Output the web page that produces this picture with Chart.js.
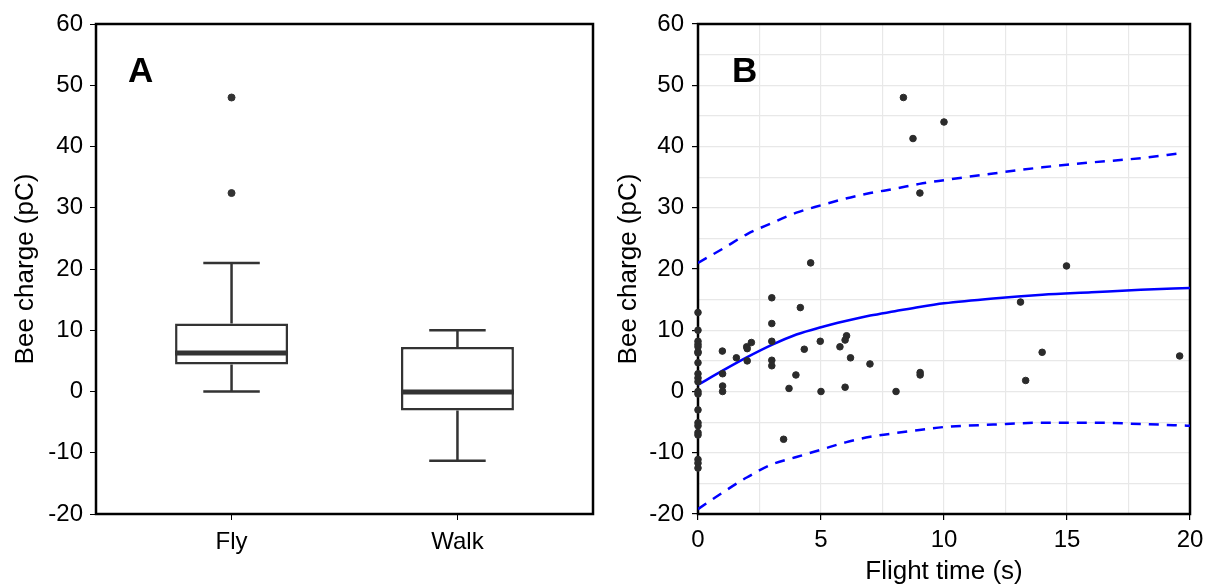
<!DOCTYPE html>
<html>
<head>
<meta charset="utf-8">
<title>Bee charge</title>
<script src="https://cdn.jsdelivr.net/npm/chart.js@4.4.1/dist/chart.umd.min.js"></script>
<style>
  html, body { margin: 0; padding: 0; background: #fff; overflow: hidden; }
  #wrap { position: relative; width: 1205px; height: 585px; overflow: hidden; }
  #chartA { position: absolute; left: 0; top: 0; }
  #chartB { position: absolute; left: 600px; top: 0; }
</style>
</head>
<body>
<div id="wrap">
  <canvas id="chartA" width="600" height="585"></canvas>
  <canvas id="chartB" width="625" height="585"></canvas>
</div>
<script>
// Panel A : boxplot stats per group
const groups = ['Fly', 'Walk'];
const whiskerLow = [0.0, -11.3];
const q1 = [4.4, -3.1];
const median = [6.3, -0.1];
const q3 = [11.1, 7.25];
const whiskerHigh = [21.0, 10.0];
const outlierGroup = [1, 1];
const outlierValue = [48.0, 32.4];

// Panel B : flight time vs charge
const flightTime = [
  0, 0, 0, 0, 0, 0, 0, 0, 0, 0, 0, 0, 0, 0, 0, 0, 0, 0, 0, 0, 0,
  8.35, 10.0, 8.74, 9.02, 4.58, 14.98, 3.0, 13.11, 4.16, 3.0,
  6.04, 5.98, 4.97, 3.0, 2.17, 1.98, 2.0, 5.77, 4.32, 0.99,
  13.99, 1.56, 6.2, 19.58, 3.0, 2.0, 6.99, 3.0, 1.0, 9.03,
  9.03, 3.98, 13.32, 1.0, 5.98, 3.7, 1.0, 5.0, 8.05, 3.48
];
const beeCharge = [
  12.9, 10.0, 8.2, 7.7, 7.3, 6.5, 6.3, 4.7, 2.9, 2.2, 1.6, 0.0, -0.4, -3.0, -5.1, -5.6, -6.7, -7.1, -11.1, -11.7, -12.5,
  48.0, 44.0, 41.3, 32.4, 21.0, 20.5, 15.3, 14.6, 13.7, 11.1,
  9.1, 8.4, 8.2, 8.2, 8.0, 7.3, 7.0, 7.3, 6.9, 6.6,
  6.4, 5.5, 5.5, 5.8, 5.1, 5.0, 4.5, 4.2, 2.9, 3.1,
  2.7, 2.7, 1.8, 0.9, 0.7, 0.5, 0.0, 0.0, 0.0, -7.8
];
const fitTime = [0, 1, 2, 3, 4, 5, 6, 7, 8, 9, 10, 12, 14, 16, 18, 20];
const fitMean = [1.1, 3.4, 5.6, 7.6, 9.3, 10.5, 11.5, 12.4, 13.1, 13.8, 14.4, 15.2, 15.8, 16.2, 16.6, 16.9];
const bandTime = [0, 1, 2, 3, 4, 5, 6, 7, 8, 9, 10, 12, 14, 16, 18, 19.6];
const upperBand = [21.0, 23.3, 25.7, 27.5, 29.2, 30.4, 31.5, 32.4, 33.1, 33.9, 34.5, 35.6, 36.6, 37.4, 38.1, 38.9];
const lowerTime = [0, 1, 2, 3, 4, 5, 6, 7, 8, 9, 10, 12, 14, 16, 18, 20];
const lowerBand = [-19.2, -16.5, -14.0, -11.9, -10.7, -9.5, -8.3, -7.4, -6.8, -6.3, -5.8, -5.4, -5.1, -5.1, -5.3, -5.6];

const yTicks = [-20, -10, 0, 10, 20, 30, 40, 50, 60];

const FONT = "'Liberation Sans', Arial, sans-serif";
const INK = '#333333';
const boxHalf = 0.25;
const capHalf = 0.125;

// frame round the plot + panel letter
function framePlugin(letter, dx) {
  return {
    id: 'frame' + letter,
    beforeDatasetsDraw(chart) {
      const { ctx, chartArea: a } = chart;
      ctx.save();
      ctx.strokeStyle = '#000';
      ctx.lineWidth = 2.5;
      ctx.strokeRect(a.left, a.top, a.right - a.left, a.bottom - a.top);
      ctx.restore();
    },
    afterDraw(chart) {
      const { ctx, chartArea: a } = chart;
      ctx.save();
      ctx.fillStyle = '#000';
      ctx.font = 'bold 35px ' + FONT;
      ctx.textBaseline = 'middle';
      ctx.fillText(letter, a.left + dx, a.top + 48);
      ctx.restore();
    }
  };
}

const groupX = groups.map((g, i) => i + 1);

// whiskers, caps and medians as line segments broken by null
const whiskerSegs = [];
const medianSegs = [];
groupX.forEach((x, i) => {
  whiskerSegs.push({ x, y: q3[i] }, { x, y: whiskerHigh[i] }, { x, y: null });
  whiskerSegs.push({ x: x - capHalf, y: whiskerHigh[i] }, { x: x + capHalf, y: whiskerHigh[i] }, { x, y: null });
  whiskerSegs.push({ x, y: q1[i] }, { x, y: whiskerLow[i] }, { x, y: null });
  whiskerSegs.push({ x: x - capHalf, y: whiskerLow[i] }, { x: x + capHalf, y: whiskerLow[i] }, { x, y: null });
  medianSegs.push({ x: x - boxHalf, y: median[i] }, { x: x + boxHalf, y: median[i] }, { x, y: null });
});

new Chart(document.getElementById('chartA'), {
  type: 'bar',
  data: {
    datasets: [
      {
        type: 'line',
        data: medianSegs,
        borderColor: INK,
        borderWidth: 5,
        pointRadius: 0,
        spanGaps: false,
        order: 1
      },
      {
        type: 'line',
        data: whiskerSegs,
        borderColor: INK,
        borderWidth: 2.5,
        pointRadius: 0,
        spanGaps: false,
        order: 3
      },
      {
        type: 'bar',
        data: groupX.map((x, i) => ({ x, y: [q1[i], q3[i]] })),
        backgroundColor: '#fff',
        borderColor: INK,
        borderWidth: 2.5,
        borderSkipped: false,
        barPercentage: 0.5,
        categoryPercentage: 1,
        order: 2
      },
      {
        type: 'scatter',
        data: outlierValue.map((v, i) => ({ x: outlierGroup[i], y: v })),
        backgroundColor: INK,
        borderColor: INK,
        pointRadius: 3.5,
        order: 0
      }
    ]
  },
  options: {
    responsive: false,
    animation: false,
    layout: { padding: { top: 24, right: 7 } },
    plugins: { legend: { display: false }, tooltip: { enabled: false } },
    scales: {
      x: {
        type: 'linear',
        min: 0.4,
        max: 2.6,
        offset: false,
        afterBuildTicks: (s) => { s.ticks = groupX.map(v => ({ value: v })); },
        afterFit: (s) => { s.height = 71; },
        grid: { drawOnChartArea: false, offset: false, tickLength: 6, color: '#000', lineWidth: 1 },
        border: { display: false },
        ticks: {
          callback: (v) => groups[v - 1] || '',
          color: '#000',
          font: { family: FONT, size: 24 },
          padding: 8,
          maxRotation: 0
        }
      },
      y: {
        min: -20,
        max: 60,
        afterBuildTicks: (s) => { s.ticks = yTicks.map(v => ({ value: v })); },
        afterFit: (s) => { s.width = 96; },
        grid: { drawOnChartArea: false, tickLength: 6, color: '#000', lineWidth: 1 },
        border: { display: false },
        ticks: { color: '#000', font: { family: FONT, size: 24 }, padding: 7 },
        title: {
          display: true,
          text: 'Bee charge (pC)',
          color: '#000',
          font: { family: FONT, size: 26, lineHeight: 1 },
          padding: { top: 13 }
        }
      }
    }
  },
  plugins: [framePlugin('A', 32)]
});

new Chart(document.getElementById('chartB'), {
  type: 'scatter',
  data: {
    datasets: [
      {
        data: flightTime.map((t, i) => ({ x: t, y: beeCharge[i] })),
        backgroundColor: '#2b2b2b',
        borderColor: '#2b2b2b',
        pointRadius: 3.3,
        clip: false,
        order: 0
      },
      {
        type: 'line',
        data: fitTime.map((t, i) => ({ x: t, y: fitMean[i] })),
        borderColor: '#0000ff',
        borderWidth: 2.5,
        pointRadius: 0,
        cubicInterpolationMode: 'monotone',
        order: 1
      },
      {
        type: 'line',
        data: bandTime.map((t, i) => ({ x: t, y: upperBand[i] })),
        borderColor: '#0000ff',
        borderWidth: 2.5,
        borderDash: [10, 8],
        pointRadius: 0,
        cubicInterpolationMode: 'monotone',
        order: 2
      },
      {
        type: 'line',
        data: lowerTime.map((t, i) => ({ x: t, y: lowerBand[i] })),
        borderColor: '#0000ff',
        borderWidth: 2.5,
        borderDash: [10, 8],
        pointRadius: 0,
        cubicInterpolationMode: 'monotone',
        order: 2
      }
    ]
  },
  options: {
    responsive: false,
    animation: false,
    // canvas runs past the window edge so the last x label can overhang
    layout: { padding: { top: 24, right: 35 } },
    plugins: { legend: { display: false }, tooltip: { enabled: false } },
    scales: {
      x: {
        type: 'linear',
        min: 0,
        max: 20,
        ticks: {
          stepSize: 2.5,
          autoSkip: false,
          maxRotation: 0,
          callback: (v) => (v % 5 === 0 ? v : ''),
          color: '#000',
          font: { family: FONT, size: 24 },
          padding: 6
        },
        afterFit: (s) => { s.height = 71; },
        grid: {
          color: '#e8e8e8',
          lineWidth: 1.2,
          tickLength: 6,
          tickColor: (c) => (c.tick && c.tick.value % 5 === 0 ? '#000' : 'rgba(0,0,0,0)')
        },
        border: { display: false },
        title: {
          display: true,
          text: 'Flight time (s)',
          color: '#000',
          font: { family: FONT, size: 26, lineHeight: 1 },
          padding: { top: 0, bottom: 0 }
        }
      },
      y: {
        min: -20,
        max: 60,
        ticks: {
          stepSize: 5,
          autoSkip: false,
          callback: (v) => (v % 10 === 0 ? v : ''),
          color: '#000',
          font: { family: FONT, size: 24 },
          padding: 8
        },
        afterFit: (s) => { s.width = 98; },
        grid: {
          color: '#e8e8e8',
          lineWidth: 1.2,
          tickLength: 6,
          tickColor: (c) => (c.tick && c.tick.value % 10 === 0 ? '#000' : 'rgba(0,0,0,0)')
        },
        border: { display: false },
        title: {
          display: true,
          text: 'Bee charge (pC)',
          color: '#000',
          font: { family: FONT, size: 26, lineHeight: 1 },
          padding: { top: 16 }
        }
      }
    }
  },
  plugins: [framePlugin('B', 34)]
});
</script>
</body>
</html>
